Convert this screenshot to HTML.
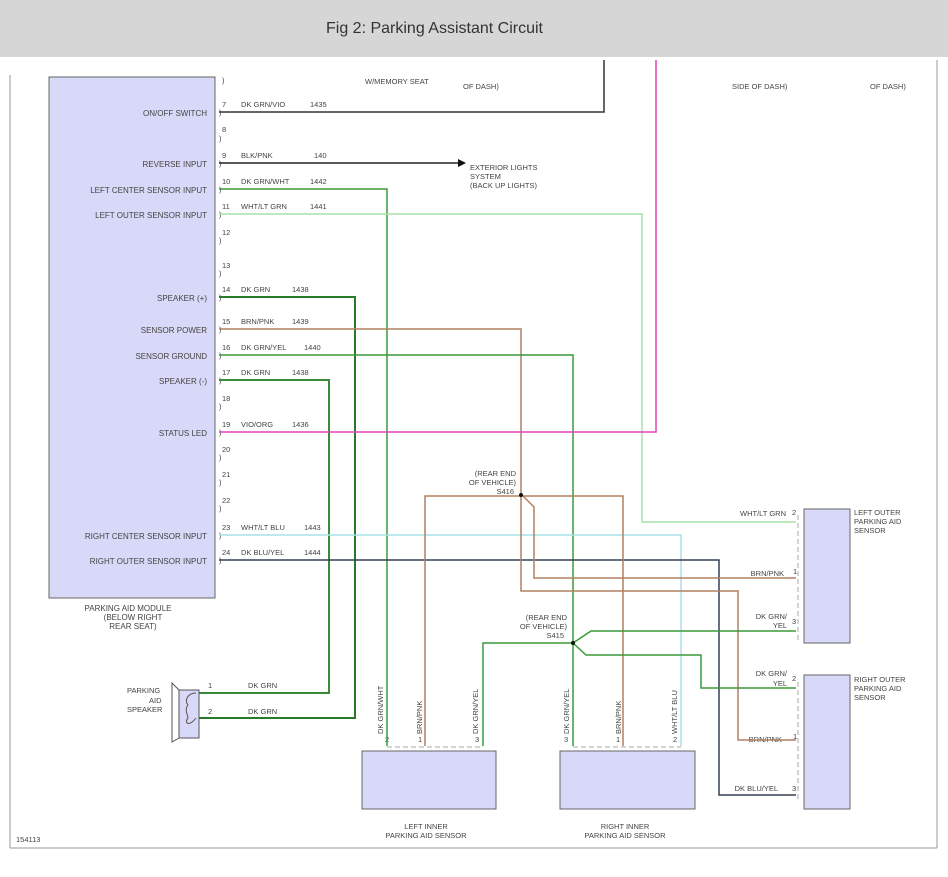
<!DOCTYPE html>
<html><head><style>
body{margin:0;background:#fff;width:948px;height:872px;overflow:hidden}
svg text{font-family:"Liberation Sans",sans-serif;fill:#444}
</style></head><body>
<svg width="948" height="872" xmlns="http://www.w3.org/2000/svg">
<rect x="0" y="0" width="948" height="57" fill="#d6d6d6"/>
<text x="326" y="33" font-size="16" style="fill:#333">Fig 2: Parking Assistant Circuit</text>
<line x1="10" y1="75" x2="10" y2="848" stroke="#999"/>
<line x1="937" y1="60" x2="937" y2="848" stroke="#999"/>
<line x1="10" y1="848" x2="937" y2="848" stroke="#999"/>

<rect x="49" y="77" width="166" height="521" fill="#d8d8f8" stroke="#666"/>
<g font-size="8" text-anchor="end">
<text x="207" y="116">ON/OFF SWITCH</text>
<text x="207" y="167">REVERSE INPUT</text>
<text x="207" y="193">LEFT CENTER SENSOR INPUT</text>
<text x="207" y="218">LEFT OUTER SENSOR INPUT</text>
<text x="207" y="301">SPEAKER (+)</text>
<text x="207" y="333">SENSOR POWER</text>
<text x="207" y="359">SENSOR GROUND</text>
<text x="207" y="384">SPEAKER (-)</text>
<text x="207" y="436">STATUS LED</text>
<text x="207" y="539">RIGHT CENTER SENSOR INPUT</text>
<text x="207" y="564">RIGHT OUTER SENSOR INPUT</text>
</g>
<g font-size="8" text-anchor="middle">
<text x="128" y="611">PARKING AID MODULE</text>
<text x="133" y="620">(BELOW RIGHT</text>
<text x="133" y="629">REAR SEAT)</text>
</g>
<g font-size="7.5">
<text x="222" y="107">7</text><text x="222" y="132">8</text><text x="222" y="158">9</text>
<text x="222" y="184">10</text><text x="222" y="209">11</text><text x="222" y="235">12</text>
<text x="222" y="268">13</text><text x="222" y="292">14</text><text x="222" y="324">15</text>
<text x="222" y="350">16</text><text x="222" y="375">17</text><text x="222" y="401">18</text>
<text x="222" y="427">19</text><text x="222" y="452">20</text><text x="222" y="477">21</text>
<text x="222" y="503">22</text><text x="222" y="530">23</text><text x="222" y="555">24</text>
<text x="222" y="83">)</text>
<text x="219" y="115">)</text><text x="219" y="141">)</text><text x="219" y="166">)</text>
<text x="219" y="192">)</text><text x="219" y="217">)</text><text x="219" y="243">)</text>
<text x="219" y="276">)</text><text x="219" y="300">)</text><text x="219" y="332">)</text>
<text x="219" y="358">)</text><text x="219" y="383">)</text><text x="219" y="409">)</text>
<text x="219" y="435">)</text><text x="219" y="460">)</text><text x="219" y="485">)</text>
<text x="219" y="511">)</text><text x="219" y="538">)</text><text x="219" y="563">)</text>
<text x="241" y="107">DK GRN/VIO</text><text x="310" y="107">1435</text>
<text x="241" y="158">BLK/PNK</text><text x="314" y="158">140</text>
<text x="241" y="184">DK GRN/WHT</text><text x="310" y="184">1442</text>
<text x="241" y="209">WHT/LT GRN</text><text x="310" y="209">1441</text>
<text x="241" y="292">DK GRN</text><text x="292" y="292">1438</text>
<text x="241" y="324">BRN/PNK</text><text x="292" y="324">1439</text>
<text x="241" y="350">DK GRN/YEL</text><text x="304" y="350">1440</text>
<text x="241" y="375">DK GRN</text><text x="292" y="375">1438</text>
<text x="241" y="427">VIO/ORG</text><text x="292" y="427">1436</text>
<text x="241" y="530">WHT/LT BLU</text><text x="304" y="530">1443</text>
<text x="241" y="555">DK BLU/YEL</text><text x="304" y="555">1444</text>
<text x="365" y="84">W/MEMORY SEAT</text>
<text x="463" y="89">OF DASH)</text>
<text x="732" y="89">SIDE OF DASH)</text>
<text x="870" y="89">OF DASH)</text>
<text x="470" y="170">EXTERIOR LIGHTS</text>
<text x="470" y="179">SYSTEM</text>
<text x="470" y="188">(BACK UP LIGHTS)</text>
<text x="516" y="476" text-anchor="end">(REAR END</text>
<text x="516" y="485" text-anchor="end">OF VEHICLE)</text>
<text x="514" y="494" text-anchor="end">S416</text>
<text x="567" y="620" text-anchor="end">(REAR END</text>
<text x="567" y="629" text-anchor="end">OF VEHICLE)</text>
<text x="564" y="638" text-anchor="end">S415</text>
<text x="127" y="693">PARKING</text><text x="149" y="703">AID</text><text x="127" y="712">SPEAKER</text>
<text x="208" y="688">1</text><text x="208" y="714">2</text>
<text x="248" y="688">DK GRN</text><text x="248" y="714">DK GRN</text>
<text x="786" y="516" text-anchor="end">WHT/LT GRN</text>
<text x="784" y="576" text-anchor="end">BRN/PNK</text>
<text x="787" y="619" text-anchor="end">DK GRN/</text><text x="787" y="628" text-anchor="end">YEL</text>
<text x="787" y="676" text-anchor="end">DK GRN/</text><text x="787" y="686" text-anchor="end">YEL</text>
<text x="782" y="742" text-anchor="end">BRN/PNK</text>
<text x="778" y="791" text-anchor="end">DK BLU/YEL</text>
<text x="792" y="515">2</text><text x="793" y="574">1</text><text x="792" y="624">3</text>
<text x="792" y="681">2</text><text x="793" y="739">1</text><text x="792" y="791">3</text>
<text x="854" y="515">LEFT OUTER</text><text x="854" y="524">PARKING AID</text><text x="854" y="533">SENSOR</text>
<text x="854" y="682">RIGHT OUTER</text><text x="854" y="691">PARKING AID</text><text x="854" y="700">SENSOR</text>
<text x="426" y="829" text-anchor="middle">LEFT INNER</text>
<text x="426" y="838" text-anchor="middle">PARKING AID SENSOR</text>
<text x="625" y="829" text-anchor="middle">RIGHT INNER</text>
<text x="625" y="838" text-anchor="middle">PARKING AID SENSOR</text>
<text x="16" y="842">154113</text>
<text x="385" y="742">2</text><text x="418" y="742">1</text><text x="475" y="742">3</text>
<text x="564" y="742">3</text><text x="616" y="742">1</text><text x="673" y="742">2</text>
</g>
<g font-size="7.5">
<text transform="translate(383,734) rotate(-90)">DK GRN/WHT</text>
<text transform="translate(422,734) rotate(-90)">BRN/PNK</text>
<text transform="translate(478,734) rotate(-90)">DK GRN/YEL</text>
<text transform="translate(569,734) rotate(-90)">DK GRN/YEL</text>
<text transform="translate(621,734) rotate(-90)">BRN/PNK</text>
<text transform="translate(677,734) rotate(-90)">WHT/LT BLU</text>
</g>

<g fill="none" stroke-width="1.5">
<polyline points="219,112 604,112 604,60" stroke="#333"/>
<polyline points="219,163 458,163" stroke="#222"/>
<polyline points="219,189 387,189 387,746" stroke="#3a9a3a"/>
<polyline points="219,214 642,214 642,522 796,522" stroke="#a8e0a8"/>
<polyline points="219,297 355,297 355,718 199,718" stroke="#2a7a2a" stroke-width="2"/>
<polyline points="219,329 521,329 521,494" stroke="#b08060"/>
<polyline points="219,355 573,355 573,746" stroke="#3a9a3a"/>
<polyline points="219,380 329,380 329,693 199,693" stroke="#3a8a3a" stroke-width="2"/>
<polyline points="219,432 656,432 656,60" stroke="#e040c0"/>
<polyline points="219,535 681,535 681,746" stroke="#a8e0e8"/>
<polyline points="219,560 719,560 719,795 796,795" stroke="#334050"/>
<polyline points="425,746 425,496 623,496 623,746" stroke="#b08060"/>
<polyline points="521,494 521,591 738,591 738,740 796,740" stroke="#b08060"/>
<polyline points="521,494 534,507 534,578 796,578" stroke="#b08060"/>
<polyline points="483,746 483,643 573,643" stroke="#3a9a3a"/>
<polyline points="573,643 591,631 796,631" stroke="#3a9a3a"/>
<polyline points="573,643 586,655 701,655 701,688 796,688" stroke="#3a9a3a"/>
</g>
<polygon points="458,159 466,163 458,167" fill="#111"/>
<circle cx="521" cy="495" r="2" fill="#111"/><circle cx="573" cy="643" r="2" fill="#111"/>
<g stroke="#aaa" stroke-dasharray="5,3" fill="none">
<line x1="387" y1="747" x2="483" y2="747"/><line x1="573" y1="747" x2="681" y2="747"/>
<line x1="798" y1="515" x2="798" y2="640"/><line x1="798" y1="682" x2="798" y2="800"/>
</g>
<rect x="362" y="751" width="134" height="58" fill="#d8d8f8" stroke="#666"/>
<rect x="560" y="751" width="135" height="58" fill="#d8d8f8" stroke="#666"/>
<rect x="804" y="509" width="46" height="134" fill="#d8d8f8" stroke="#666"/>
<rect x="804" y="675" width="46" height="134" fill="#d8d8f8" stroke="#666"/>
<polygon points="172,683 179,690 179,738 172,742" fill="#fff" stroke="#555"/>
<rect x="179" y="690" width="20" height="48" fill="#d8d8f8" stroke="#555"/>
<path d="M196,693 C188,693 184,700 188,705 C184,710 188,715 188,718 C184,722 188,728 196,718" fill="none" stroke="#555"/>
</svg>
</body></html>
